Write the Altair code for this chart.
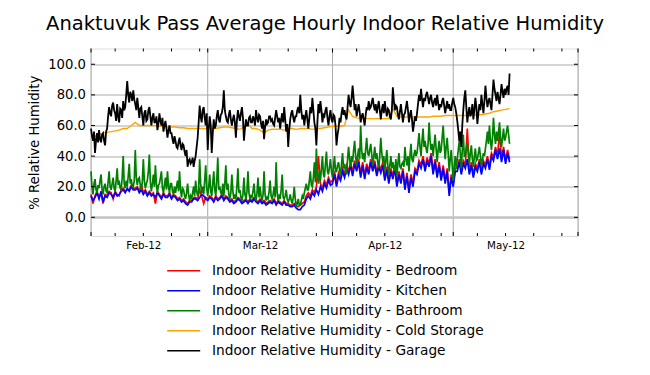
import altair as alt
import numpy as np
import pandas as pd

# ---------------- data (starting 2012-02-01 00:00 UTC) -------------
TITLE = "Anaktuvuk Pass Average Hourly Indoor Relative Humidity"
SERIES = [
    "Indoor Relative Humidity - Bedroom",
    "Indoor Relative Humidity - Kitchen",
    "Indoor Relative Humidity - Bathroom",
    "Indoor Relative Humidity - Cold Storage",
    "Indoor Relative Humidity - Garage",
]
COLORS = ["#ff0000", "#0000ff", "#008000", "#ffa500", "#000000"]

# 12-hour samples
BEDROOM = [
    15, 9, 14, 17, 13, 16, 9, 15, 14, 17, 16, 12, 17, 15, 14, 18, 19, 17, 18, 18,
    21, 19, 19, 20, 17, 22, 16, 18, 15, 17, 15, 16, 9, 17, 15, 13, 16, 14, 14, 16,
    13, 15, 14, 12, 13, 11, 12, 10, 9, 11, 11, 13, 13, 12, 18, 14, 9, 13, 12, 14,
    13, 11, 14, 12, 13, 15, 12, 14, 13, 11, 12, 10, 11, 13, 12, 10, 11, 12, 10, 12,
    11, 13, 11, 10, 12, 10, 11, 9, 10, 11, 10, 12, 9, 11, 10, 9, 11, 9, 9, 8,
    8, 9, 7, 7, 8, 9, 10, 14, 16, 14, 18, 16, 20, 40, 22, 19, 24, 21, 26, 23,
    24, 30, 22, 29, 26, 32, 28, 34, 30, 36, 29, 37, 32, 38, 28, 36, 27, 35, 30, 38,
    32, 37, 29, 35, 31, 36, 26, 33, 24, 32, 27, 34, 22, 30, 24, 32, 20, 29, 18, 28,
    22, 32, 30, 37, 34, 40, 32, 39, 35, 42, 30, 38, 28, 36, 26, 34, 24, 32, 16, 28,
    22, 32, 32, 38, 30, 37, 34, 58, 30, 36, 28, 35, 32, 38, 30, 37, 34, 40, 33, 42,
    39, 46, 40, 56, 38, 46, 37, 44, 38,
]
# 12-hour samples
KITCHEN = [
    14, 11, 13, 16, 12, 17, 10, 14, 13, 16, 15, 13, 16, 14, 15, 17, 18, 16, 19, 17,
    20, 18, 18, 19, 16, 18, 15, 17, 14, 16, 14, 15, 13, 16, 14, 12, 15, 13, 13, 15,
    12, 14, 13, 11, 12, 10, 11, 9, 8, 10, 10, 12, 12, 11, 13, 15, 14, 12, 11, 13,
    12, 10, 13, 11, 12, 14, 11, 13, 12, 10, 11, 9, 10, 12, 11, 9, 10, 11, 9, 11,
    10, 12, 10, 9, 11, 9, 10, 8, 9, 10, 9, 11, 8, 10, 9, 8, 10, 8, 8, 7,
    7, 8, 6, 5, 5, 7, 8, 12, 14, 12, 16, 14, 18, 15, 20, 17, 22, 19, 24, 21,
    22, 28, 20, 27, 24, 30, 26, 32, 28, 34, 27, 35, 30, 36, 26, 34, 25, 33, 28, 36,
    30, 35, 27, 33, 29, 34, 24, 31, 22, 30, 25, 32, 20, 28, 22, 30, 18, 27, 16, 26,
    20, 30, 28, 35, 32, 38, 30, 37, 33, 40, 28, 36, 26, 34, 24, 32, 22, 30, 14, 26,
    20, 30, 30, 36, 28, 35, 32, 38, 28, 34, 26, 33, 30, 36, 28, 35, 32, 38, 31, 40,
    37, 44, 38, 45, 36, 44, 35, 42, 36,
]
# 6-hour samples
BATHROOM = [
    30, 20, 15, 22, 25, 18, 16, 21, 19, 24, 28, 18, 15, 20, 22, 17, 16, 23, 30, 20,
    18, 22, 26, 19, 17, 24, 32, 21, 24, 19, 18, 26, 40, 22, 19, 24, 20, 27, 35, 22,
    25, 20, 20, 24, 44, 26, 21, 25, 26, 21, 18, 23, 38, 24, 19, 22, 24, 30, 41, 23,
    17, 22, 28, 20, 34, 22, 16, 21, 22, 26, 30, 19, 16, 21, 26, 18, 30, 20, 16, 22,
    22, 17, 15, 20, 16, 20, 24, 17, 30, 18, 13, 19, 18, 14, 12, 16, 22, 15, 11, 14,
    12, 16, 20, 14, 24, 17, 14, 18, 38, 22, 16, 20, 15, 24, 34, 19, 14, 20, 28, 17,
    14, 22, 30, 18, 14, 24, 39, 18, 20, 16, 15, 22, 14, 22, 34, 18, 22, 15, 12, 16,
    28, 17, 12, 15, 12, 20, 32, 16, 18, 13, 11, 15, 26, 15, 12, 17, 30, 16, 12, 14,
    13, 17, 22, 14, 11, 16, 26, 13, 20, 14, 11, 15, 30, 15, 11, 13, 12, 17, 24, 14,
    12, 15, 20, 13, 36, 16, 11, 14, 12, 18, 28, 13, 12, 14, 18, 12, 10, 12, 15, 11,
    9, 13, 20, 12, 7, 9, 12, 8, 8, 11, 14, 12, 16, 19, 22, 18, 18, 24, 30, 21,
    20, 26, 36, 23, 45, 28, 22, 30, 24, 32, 40, 28, 26, 35, 43, 30, 28, 33, 38, 30,
    26, 33, 40, 30, 30, 34, 36, 31, 27, 35, 42, 32, 35, 30, 28, 38, 46, 38, 33, 40,
    36, 44, 50, 40, 34, 40, 45, 38, 60, 44, 38, 42, 36, 45, 52, 42, 40, 44, 48, 41,
    34, 40, 46, 38, 42, 36, 32, 40, 52, 42, 36, 40, 30, 37, 44, 34, 28, 34, 40, 32,
    36, 32, 30, 38, 27, 35, 42, 33, 32, 35, 36, 33, 46, 38, 34, 40, 30, 40, 48, 38,
    36, 41, 44, 40, 42, 48, 55, 46, 40, 50, 58, 46, 50, 45, 42, 48, 62, 50, 44, 48,
    40, 47, 54, 45, 36, 44, 50, 42, 44, 52, 60, 48, 38, 46, 52, 42, 30, 38, 44, 34,
    24, 33, 40, 32, 38, 44, 50, 42, 32, 44, 54, 40, 40, 45, 48, 42, 35, 42, 47, 38,
    33, 40, 45, 37, 38, 42, 46, 40, 34, 38, 42, 40, 45, 50, 56, 48, 60, 50, 44, 52,
    65, 54, 48, 56, 50, 56, 62, 52, 46, 52, 58, 50, 52, 56, 60, 54, 48,
]
# 24-hour samples
COLD_STORAGE = [
    52, 53, 54, 55, 55.5, 56, 56.5, 57, 58, 58,
    60, 62, 60, 60, 60, 60, 60, 59.5, 59.5, 59,
    59, 59, 58.5, 58.5, 58, 58, 58, 58, 58, 58,
    58, 58, 58.5, 59, 59, 58.5, 58, 57.5, 59, 61,
    58, 58, 57, 55, 57, 57.5, 57.5, 57.5, 57, 58,
    58, 57.5, 58, 58, 58, 57.5, 58, 58, 58.5, 59,
    59.5, 59.5, 59.5, 60, 70, 66, 65, 64.5, 64.5, 64.5,
    64.5, 64.5, 64.5, 64.5, 64.5, 71, 66, 65.5, 65.5, 65.5,
    65.5, 65.5, 65.5, 65.5, 65.5, 66, 66, 66, 66.5, 66.5,
    66.5, 66.5, 66.5, 66.5, 66.5, 66.5, 67, 67, 67.5, 68,
    69, 69.5, 70, 70.5, 71,
]
# 6-hour samples
GARAGE = [
    58, 53, 50, 56, 42, 50, 55, 49, 57, 51, 49, 54, 55, 50, 47, 56, 58, 66, 72, 68,
    66, 73, 75, 70, 68, 63, 74, 66, 62, 71, 70, 65, 76, 70, 72, 80, 89, 80, 75, 82,
    80, 76, 83, 77, 74, 70, 78, 72, 65, 71, 72, 66, 60, 68, 70, 63, 64, 70, 72, 66,
    60, 65, 68, 62, 62, 66, 57, 61, 68, 63, 60, 65, 56, 60, 63, 58, 52, 57, 60, 55,
    55, 51, 48, 53, 50, 46, 45, 49, 52, 47, 44, 48, 47, 43, 40, 44, 33, 37, 38, 35,
    36, 39, 33, 37, 40, 46, 52, 62, 73, 66, 62, 70, 72, 65, 60, 68, 44, 58, 66, 60,
    42, 55, 64, 58, 60, 66, 70, 64, 62, 67, 68, 72, 83, 70, 66, 63, 62, 67, 70, 64,
    60, 64, 67, 62, 52, 63, 70, 66, 63, 68, 72, 65, 50, 58, 64, 60, 60, 65, 66, 62,
    62, 66, 64, 60, 70, 65, 62, 67, 66, 61, 58, 63, 51, 59, 64, 61, 62, 66, 66, 63,
    64, 61, 60, 65, 70, 66, 62, 65, 58, 64, 68, 62, 72, 64, 56, 61, 46, 57, 64, 68,
    70, 65, 62, 66, 66, 70, 72, 68, 80, 70, 64, 67, 60, 66, 70, 64, 58, 65, 72, 68,
    78, 70, 62, 58, 47, 62, 74, 68, 76, 70, 62, 67, 66, 70, 72, 65, 60, 66, 70, 64,
    62, 67, 66, 60, 47, 54, 58, 65, 62, 68, 72, 67, 70, 66, 64, 72, 80, 75, 72, 78,
    86, 78, 70, 74, 66, 70, 74, 69, 62, 66, 68, 64, 60, 67, 72, 70, 76, 71, 72, 75,
    78, 73, 70, 74, 68, 72, 76, 70, 64, 70, 74, 68, 76, 70, 66, 71, 70, 66, 64, 70,
    85, 76, 70, 73, 72, 67, 64, 69, 74, 68, 62, 67, 68, 72, 76, 70, 62, 67, 70, 64,
    56, 61, 66, 63, 68, 74, 80, 76, 84, 77, 72, 78, 76, 80, 82, 78, 74, 78, 80, 75,
    72, 76, 78, 73, 80, 75, 70, 74, 72, 76, 78, 73, 68, 72, 76, 71, 74, 70, 70, 75,
    78, 74, 72, 68, 63, 57, 50, 56, 46, 60, 70, 78, 83, 72, 62, 68, 72, 66, 68, 74,
    64, 70, 78, 72, 61, 68, 74, 70, 80, 74, 68, 76, 86, 78, 72, 76, 78, 74, 70, 80,
    90, 84, 80, 76, 82, 78, 74, 80, 87, 82, 78, 84, 80, 84, 86, 80, 94,
]
STEP_HOURS = [12, 12, 6, 24, 6]
WIDTHS = [1.7, 1.7, 1.7, 1.4, 1.8]
VALUES = [BEDROOM, KITCHEN, BATHROOM, COLD_STORAGE, GARAGE]

Y_TICKS = [0, 20, 40, 60, 80, 100]
MONTH_STARTS = ["2012-02-01", "2012-03-01", "2012-04-01", "2012-05-01", "2012-06-01"]
MINOR_DAYS = [7, 14, 21, 28]
LABEL_MONTHS = [2, 3, 4, 5]

# ---------------- build tables ----------------
START = pd.Timestamp("2012-02-01")
frames = []
for name, vals, step in zip(SERIES, VALUES, STEP_HOURS):
    t = START + pd.to_timedelta(np.arange(len(vals)) * step, unit="h")
    frames.append(pd.DataFrame({"t": t.strftime("%Y-%m-%dT%H:%M:%SZ"), "v": vals, "s": name}))

months_df = pd.DataFrame({"t": [m + "T00:00:00Z" for m in MONTH_STARTS]})
minor_df = pd.DataFrame({"t": [f"2012-{m:02d}-{d:02d}T00:00:00Z" for m in LABEL_MONTHS for d in MINOR_DAYS]})
yt_df = pd.DataFrame({"v": Y_TICKS})
zero_df = pd.DataFrame({"v": [0]})
title_df = pd.DataFrame({"title": [TITLE]})

W, H = 487, 187.5
FONT = "DejaVu Sans"

xscale = alt.Scale(type="utc", domain=[alt.DateTime(year=2012, month=2, date=1, utc=True),
                                       alt.DateTime(year=2012, month=6, date=1, utc=True)])
yscale = alt.Scale(domain=[-12.2, 110.3], nice=False, zero=False)

xaxis = alt.Axis(values=[alt.DateTime(year=2012, month=m, date=14, utc=True) for m in LABEL_MONTHS],
                 labelExpr="utcFormat(datum.value, '%b-%y')", ticks=False, grid=False, domain=False,
                 labelFont=FONT, labelFontSize=10.3, labelPadding=4.5, labelColor="black", title=None)
yaxis = alt.Axis(values=Y_TICKS, format=".1f", ticks=False, tickSize=0, domain=False, grid=True,
                 gridColor="#aaaaaa", gridWidth=1, labelFont=FONT, labelFontSize=13.2, labelPadding=5.5,
                 labelColor="black", title="% Relative Humidity", titleFont=FONT, titleFontSize=13.2,
                 titleFontWeight="normal", titleColor="black", titleX=-53, titleBaseline="alphabetic")

X = alt.X("t:T", scale=xscale, axis=xaxis)
Y = alt.Y("v:Q", scale=yscale, axis=yaxis)

color = alt.Color("s:N", scale=alt.Scale(domain=SERIES, range=COLORS),
                  legend=alt.Legend(orient="none", legendX=75.2, legendY=212.2, direction="vertical",
                                    title=None, symbolType="stroke", symbolSize=1089, symbolStrokeWidth=1.4,
                                    labelFont=FONT, labelFontSize=13.7, labelColor="black", labelOffset=10.8,
                                    labelLimit=600, clipHeight=20, rowPadding=0, padding=0))

month_rules = alt.Chart(months_df).mark_rule(color="#aaaaaa", strokeWidth=1).encode(x=X)
zero_rule = alt.Chart(zero_df).mark_rule(color="#c4c4c4", strokeWidth=2.3).encode(y=Y)

lines = []
for f, w in zip(frames, WIDTHS):
    lines.append(alt.Chart(f).mark_line(strokeWidth=w, interpolate="linear").encode(x=X, y=Y, color=color))

tick_bot_minor = alt.Chart(minor_df).mark_rule(color="black", strokeWidth=1).encode(
    x=X, y=alt.value(H), y2=alt.value(H - 3))
tick_top_minor = alt.Chart(minor_df).mark_rule(color="black", strokeWidth=1).encode(
    x=X, y=alt.value(0), y2=alt.value(3))
tick_bot_major = alt.Chart(months_df).mark_rule(color="black", strokeWidth=1).encode(
    x=X, y=alt.value(H), y2=alt.value(H - 4))
tick_top_major = alt.Chart(months_df).mark_rule(color="black", strokeWidth=1).encode(
    x=X, y=alt.value(0), y2=alt.value(4))
ytick_l = alt.Chart(yt_df).mark_rule(color="black", strokeWidth=1).encode(
    y=Y, x=alt.value(0), x2=alt.value(4))
ytick_r = alt.Chart(yt_df).mark_rule(color="black", strokeWidth=1).encode(
    y=Y, x=alt.value(W - 4), x2=alt.value(W))

title_text = alt.Chart(title_df).mark_text(
    font=FONT, fontSize=19.5, color="black", align="center", baseline="alphabetic"
).encode(text="title:N", x=alt.value(234), y=alt.value(-18.5))

chart = alt.layer(
    month_rules, zero_rule, *lines,
    tick_bot_minor, tick_top_minor, tick_bot_major, tick_top_major, ytick_l, ytick_r, title_text,
).properties(
    width=W, height=H,
    autosize=alt.AutoSizeParams(type="none"),
    padding={"left": 83, "top": 40.5, "right": 64, "bottom": 131},
).configure_view(
    stroke="black", strokeWidth=1.4
).configure(background="white")

chart.save("out.html", embed_options={"renderer": "svg", "actions": False})
